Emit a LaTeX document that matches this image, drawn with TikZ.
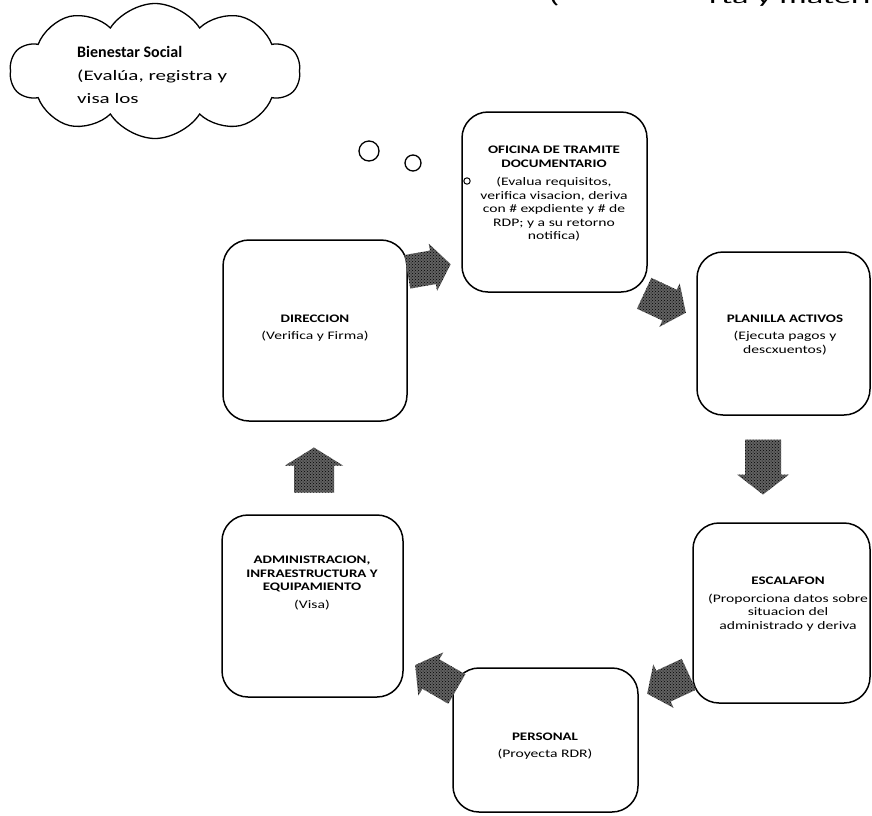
\documentclass[tikz,border=0pt]{standalone}
\usepackage{fontspec}
\setmainfont{Carlito}
\newfontfamily\wreg[FakeStretch=1.36]{Carlito}
\newfontfamily\creg[FakeStretch=1.45]{Carlito}
\newfontfamily\treg[FakeStretch=1.9]{Carlito}
\newfontfamily\wbold[FakeStretch=1.3]{Carlito}
\newcommand\tb[1]{{\wbold\bfseries #1}}
\newcommand\tr[1]{{\wreg #1}}
\usetikzlibrary{shapes.symbols,patterns}
\tikzset{
  procbox/.style={draw=black, line width=1.5pt, rounded corners=26pt, inner sep=0pt},
  boxtext/.style={align=center, inner sep=0pt, font=\fontsize{11.5}{13.5}\selectfont},
  arrowfill/.style={fill=black!62, postaction={pattern=crosshatch dots, pattern color=black}},
  pics/blkarrow/.style n args={4}{code={
    \fill[arrowfill] ({-#1/2},{-#3/2}) -- ({#1/2-#4},{-#3/2}) -- ({#1/2-#4},{-#2/2}) -- ({#1/2},0)
      -- ({#1/2-#4},{#2/2}) -- ({#1/2-#4},{#3/2}) -- ({-#1/2},{#3/2}) -- cycle;
  }},
  bubble/.style={draw=black, line width=1.3pt, fill=white},
  cloudtext/.style={anchor=base west, inner sep=0pt}
}
\begin{document}
\begin{tikzpicture}[x=1pt,y=-1pt]
\fill[white] (0,0) rectangle (872,815);
\clip (0,0) rectangle (872,815);

% partial text at the top edge
\node[cloudtext, font=\fontsize{18}{20}\selectfont\treg] (topA) at (549,3) {(};
\node[cloudtext, font=\fontsize{18}{20}\selectfont\treg] (topB) at (709,3) {rta y materiales};

% cloud
\node[cloud, cloud puffs=10, cloud puff arc=115, aspect=2.2, draw=black, line width=1.3pt,
  minimum width=290pt, minimum height=135pt, inner sep=0pt] (bs) at (155,71) {};
\node[cloudtext, font=\fontsize{16}{22}\selectfont\bfseries] (bs1) at (77,57) {Bienestar Social};
\node[cloudtext, font=\fontsize{14.5}{22}\selectfont\creg] (bs2) at (77,80) {(Evalúa, registra y};
\node[cloudtext, font=\fontsize{14.5}{22}\selectfont\creg] (bs3) at (77,103) {visa los};

% thought bubbles
\draw[bubble] (369,151) circle (10);
\draw[bubble] (413,163) circle (8);

% boxes
\node[procbox, minimum width=185pt, minimum height=180pt] (otd) at (554.5,202) {};
\node[procbox, minimum width=173pt, minimum height=163pt] (pla) at (783.5,333.5) {};
\node[procbox, minimum width=184pt, minimum height=181pt] (dir) at (315,330.5) {};
\node[procbox, minimum width=181pt, minimum height=182pt] (adm) at (312.5,606) {};
\node[procbox, minimum width=177pt, minimum height=180pt] (esc) at (781.5,613) {};
\node[procbox, minimum width=185pt, minimum height=144pt] (per) at (545.5,740) {};

\draw[bubble, line width=1pt] (467,181) circle (3.2);

% texts
\node[boxtext] (otdT) at (554,194) {\tb{OFICINA DE TRAMITE}\\\tb{DOCUMENTARIO}\\[5pt]
  \tr{(Evalua requisitos,}\\\tr{verifica visacion, deriva}\\\tr{con \# expdiente y \# de}\\\tr{RDP; y a su retorno}\\\tr{notifica)}};
\node[boxtext] (plaT) at (785,335) {\tb{PLANILLA ACTIVOS}\\[4pt]\tr{(Ejecuta pagos y}\\\tr{descxuentos)}};
\node[boxtext] (dirT) at (315,328) {\tb{DIRECCION}\\[4pt]\tr{(Verifica y Firma)}};
\node[boxtext] (admT) at (312,583) {\tb{ADMINISTRACION,}\\\tb{INFRAESTRUCTURA Y}\\\tb{EQUIPAMIENTO}\\[4pt]\tr{(Visa)}};
\node[boxtext] (escT) at (788,604) {\tb{ESCALAFON}\\[4pt]\tr{(Proporciona datos sobre}\\\tr{situacion del}\\\tr{administrado y deriva}};
\node[boxtext] (perT) at (545,746) {\tb{PERSONAL}\\[4pt]\tr{(Proyecta RDR)}};

% block arrows
\pic[rotate=10] (a1) at (429,268) {blkarrow={44}{48}{34}{18}};
\pic[rotate=-25] (a2) at (665,303) {blkarrow={46}{48}{34}{18}};
\pic[rotate=-90] (a3) at (763,467) {blkarrow={55}{52}{36}{20}};
\pic[rotate=205] (a4) at (668,684) {blkarrow={46}{48}{34}{18}};
\pic[rotate=150] (a5) at (436,677) {blkarrow={48}{50}{34}{18}};
\pic[rotate=90] (a6) at (314,470) {blkarrow={45}{58}{40}{18}};
\end{tikzpicture}
\end{document}
